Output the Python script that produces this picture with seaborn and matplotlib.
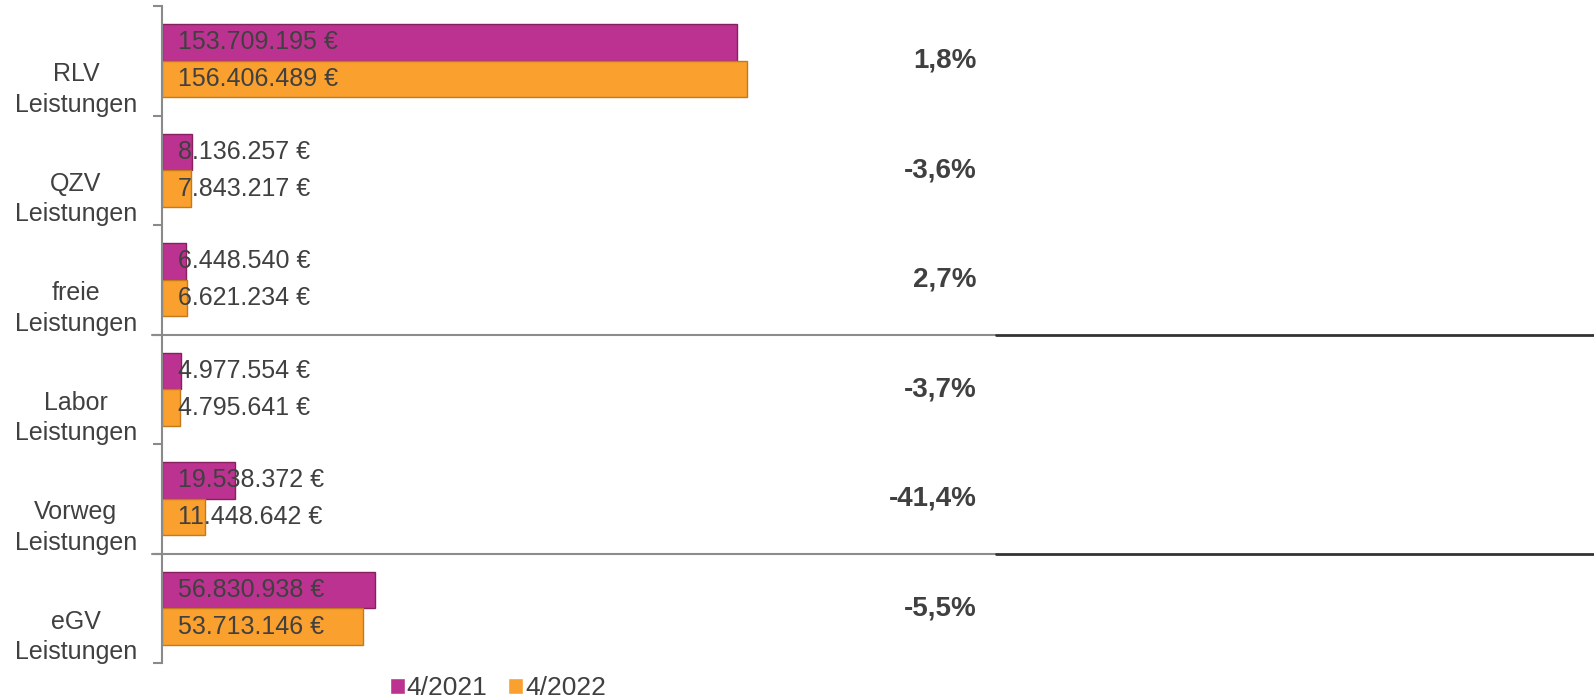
import pandas as pd
import matplotlib.pyplot as plt
import matplotlib.transforms as mtransforms
import seaborn as sns

# ================= data =================
categories = ["RLV\nLeistungen", "QZV\nLeistungen", "freie\nLeistungen",
              "Labor\nLeistungen", "Vorweg\nLeistungen", "eGV\nLeistungen"]
periods = ["4/2021", "4/2022"]
values_2021 = [153709195, 8136257, 6448540, 4977554, 19538372, 56830938]
values_2022 = [156406489, 7843217, 6621234, 4795641, 11448642, 53713146]
changes = ["1,8%", "-3,6%", "2,7%", "-3,7%", "-41,4%", "-5,5%"]
separators = [2.5, 4.5]  # between freie/Labor and Vorweg/eGV

colors = {"4/2021": "#BC3290", "4/2022": "#F9A02E"}
edges = {"4/2021": "#86205F", "4/2022": "#C47A1C"}
TEXT = "#404040"

sns.set_theme(style="white")
plt.rcParams['font.family'] = ['Liberation Sans', 'DejaVu Sans']


def euro(v):
    return f"{v:,}".replace(",", ".") + " €"


def main():
    df = pd.DataFrame({
        "kategorie": categories * 2,
        "zeitraum": [periods[0]] * len(categories) + [periods[1]] * len(categories),
        "wert": values_2021 + values_2022,
    })

    fig, ax = plt.subplots(figsize=(15.94, 6.99), dpi=100)
    fig.subplots_adjust(left=162 / 1594, right=996 / 1594,
                        top=1 - 6 / 699, bottom=1 - 663 / 699)

    sns.barplot(data=df, y="kategorie", x="wert", hue="zeitraum",
                hue_order=periods, palette=colors, orient="h",
                width=0.67, saturation=1, ax=ax, legend=True)

    # Kanten + Wertbeschriftung
    for cont, per in zip(ax.containers, periods):
        for bar, v in zip(cont, df.loc[df.zeitraum == per, "wert"]):
            bar.set_edgecolor(edges[per])
            bar.set_linewidth(1.0)
            yc = bar.get_y() + bar.get_height() / 2
            ax.annotate(euro(v), xy=(0, yc), xytext=(16, 0),
                        textcoords="offset pixels", ha="left", va="center",
                        fontsize=18, color=TEXT)

    ax.set_xlim(0, 223e6)
    ax.set_ylim(len(categories) - 0.5, -0.5)
    ax.set_xlabel("")
    ax.set_ylabel("")
    ax.set_xticks([])

    # Achse links
    for s in ["top", "right", "bottom"]:
        ax.spines[s].set_visible(False)
    ax.spines["left"].set_color("#8a8a8a")
    ax.spines["left"].set_linewidth(1.5)
    ax.set_yticks([i - 0.5 for i in range(len(categories) + 1)], minor=True)
    ax.tick_params(axis="y", which="minor", length=6.5, width=1.5,
                   color="#8a8a8a", left=True)
    ax.tick_params(axis="y", which="major", length=0, pad=62,
                   labelsize=18, labelcolor=TEXT)
    offset = mtransforms.ScaledTranslation(0, -23 / 100, fig.dpi_scale_trans)
    for lab in ax.get_yticklabels():
        lab.set_horizontalalignment("center")
        lab.set_multialignment("center")
        lab.set_linespacing(1.35)
        lab.set_transform(lab.get_transform() + offset)

    # Veraenderung in %
    trans = ax.get_yaxis_transform()
    for i, c in enumerate(changes):
        ax.text(0.977, i, c, transform=trans, ha="right", va="center",
                fontsize=20, fontweight="bold", color=TEXT)

    # Trennlinien
    x_end = (1594 - 162) / (996 - 162)
    for y in separators:
        ax.plot([-0.012, 1.0], [y, y], transform=trans, color="#8c8c8c",
                lw=1.5, clip_on=False)
        ax.plot([1.0, x_end], [y, y], transform=trans, color="#333333",
                lw=2.0, clip_on=False)

    handles, labels = ax.get_legend_handles_labels()
    ax.legend(handles, labels, loc="center", ncol=2, frameon=False,
              bbox_to_anchor=(498 / 1594, 1 - 688 / 699),
              bbox_transform=fig.transFigure, fontsize=19,
              handlelength=0.55, handleheight=0.55, handletextpad=0.08,
              columnspacing=0.8, labelcolor=TEXT)

    fig.savefig("out.png", dpi=100)


if __name__ == "__main__":
    main()
